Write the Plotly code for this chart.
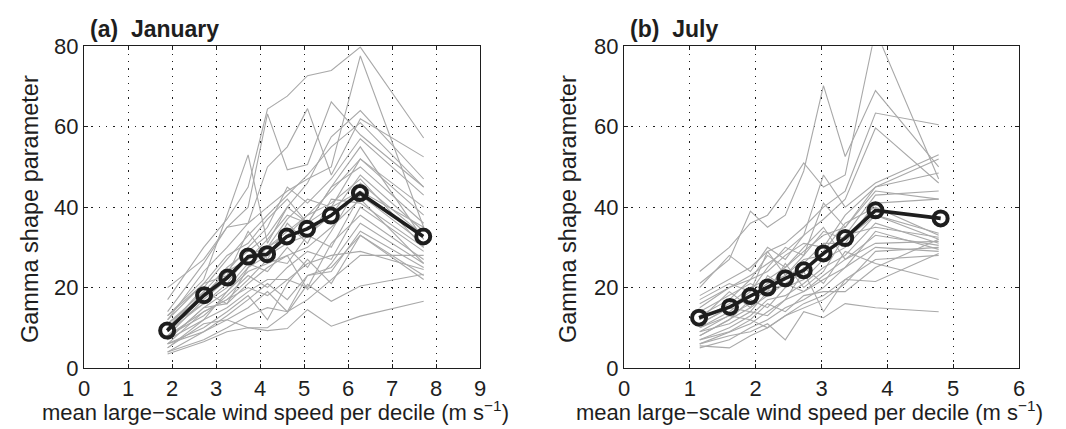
import plotly.graph_objects as go

# ---------------- data: January ----------------
jan_mean_x = [1.89, 2.73, 3.26, 3.73, 4.16, 4.61, 5.07, 5.61, 6.27, 7.71]
jan_mean_y = [9.3, 18.1, 22.5, 27.7, 28.3, 32.7, 34.6, 37.9, 43.5, 32.7]

jan_gray_x = [1.9, 2.72, 3.25, 3.73, 4.17, 4.62, 5.08, 5.62, 6.28, 7.72]
jan_gray = [
    [17, 30, 37, 45, 64.4, 67.6, 72.7, 74.0, 79.8, 57.2],
    [12, 24, 30, 36, 40, 44, 47, 50, 77.6, 35],
    [14, 26, 35, 40, 63.2, 49.3, 50.6, 66.2, 58, 45],
    [20, 27, 35, 36, 50, 55, 64.5, 48, 62, 52.5],
    [13, 22, 38, 53, 31, 40, 46, 57.5, 64, 47],
    [10, 20, 27, 33, 38, 43, 48, 55, 61, 45],
    [9, 18, 24, 30, 35, 45, 41, 47, 57, 43],
    [8, 17, 22, 27, 30, 34, 38, 44, 52, 40],
    [11, 19, 25, 29, 33, 40, 36, 45, 50, 36],
    [7, 15, 19, 25, 28, 31, 33, 38, 48, 34],
    [9, 16, 20, 26, 24, 30, 25, 34, 46, 33],
    [6, 14, 17, 22, 27, 26, 33, 30, 43, 31],
    [12, 21, 23, 34, 27, 36, 31, 42, 41, 30],
    [8, 13, 18, 23, 20, 25, 29, 27, 40, 29],
    [5, 12, 15, 19, 22, 22, 20, 31, 38, 27],
    [7, 15, 16, 21, 25, 28, 19.5, 26, 36, 26],
    [4, 7, 10, 13, 15, 14, 23, 24, 34, 25],
    [6, 10, 14, 18, 12, 21, 27, 21, 33, 23],
    [5, 11, 12, 15, 19, 14, 17, 22, 28, 28],
    [3.5, 6.5, 9, 10, 9.3, 9.8, 14.5, 10.4, 12.9, 16.6],
    [6, 9, 12, 10, 10, 13.7, 20.8, 16.6, 20.4, 23.3],
    [8, 14, 17, 20, 18, 22, 26, 28, 29, 24.5],
    [10, 16, 21, 28, 30, 33, 38, 41, 47, 30],
    [9, 19, 16, 25, 30, 37, 42, 40, 52, 38],
    [13, 21, 28, 31, 37, 42, 36, 45, 55, 32],
    [7, 12, 19, 24, 26, 28, 30, 35, 42, 26],
    [4, 9, 13, 17, 21, 17, 23, 25, 33, 22],
    [11, 18, 24, 27, 32, 38, 36, 40, 44, 35],
]

# ---------------- data: July ----------------
jul_mean_x = [1.14, 1.61, 1.92, 2.18, 2.45, 2.73, 3.03, 3.36, 3.82, 4.81]
jul_mean_y = [12.5, 15.2, 17.9, 20.0, 22.3, 24.3, 28.5, 32.3, 39.2, 37.2]

jul_gray_x = [1.15, 1.6, 1.92, 2.18, 2.45, 2.73, 3.03, 3.36, 3.82, 4.78]
jul_gray = [
    [24, 30, 36, 38, 44, 51, 45, 48, 84, 47],
    [21, 27, 39, 35, 38, 49, 70.2, 52.6, 69, 50],
    [18, 22, 25, 29, 31, 35, 40, 44, 63.4, 60.5],
    [15, 20, 23, 26, 29, 33, 37, 42, 59.7, 46],
    [20, 28, 24, 30, 27, 33, 48, 40, 46, 53],
    [13, 17, 22, 24, 28, 31, 30, 38, 45, 52],
    [12, 16, 20, 22, 25, 29, 33, 35, 45, 48.5],
    [10, 14, 18, 21, 23, 27, 28, 33, 43, 44],
    [9, 13, 16, 20, 22, 26, 31, 31, 41, 42],
    [11, 15, 14, 19, 21, 24, 29, 36, 40, 33],
    [8, 12, 17, 15, 20, 22, 27, 30, 38, 32],
    [7, 10, 13, 17, 18, 21, 25, 28, 36, 31],
    [6, 9, 11, 14, 17, 19, 23, 27, 33, 30.5],
    [5, 7, 10, 12, 15, 17, 20, 25, 30, 29],
    [5.5, 5, 8, 10, 13, 16, 18, 22, 27, 28],
    [6, 8, 9, 11, 7, 14, 12.5, 16, 15, 14],
    [12, 19, 15, 23, 20, 25, 21, 29, 26, 22],
    [14, 18, 21, 19, 26, 20, 24, 33, 35, 32.5],
    [9, 11, 14, 13, 17, 24, 14, 22, 21.5, 28.5],
    [16, 20, 22, 28, 25, 30, 35, 27, 31, 31.5],
    [10, 13, 12, 16, 14, 18, 19, 19, 25, 32],
    [7, 9, 12, 10, 13, 15, 17, 21, 29, 30],
    [11, 15, 19, 29, 23, 28, 34, 32, 38, 33.5],
    [8, 12, 15, 18, 21, 19, 22, 25, 34, 29.5],
    [17, 21, 19, 25, 30, 28, 41, 35, 44, 42],
]

panel_titles = ["(a)  January", "(b)  July"]
x_title = "mean large\u2212scale wind speed per decile (m s<sup>\u22121</sup>)"
y_title = "Gamma shape parameter"

GRAY = "#a9a9a9"
BLACK = "#1e1e1e"
FONT = "Liberation Sans, Arial, Helvetica, sans-serif"

fig = go.Figure()


def add_panel(gx, gys, mx, my, xa, ya):
    for ys in gys:
        fig.add_trace(go.Scatter(x=gx, y=ys, mode="lines", xaxis=xa, yaxis=ya,
                                 line=dict(color=GRAY, width=1.1),
                                 showlegend=False, hoverinfo="skip"))
    fig.add_trace(go.Scatter(x=mx, y=my, mode="lines+markers", xaxis=xa, yaxis=ya,
                             line=dict(color=BLACK, width=3.6),
                             marker=dict(symbol="circle-open", size=14, color=BLACK,
                                         line=dict(width=4, color=BLACK)),
                             showlegend=False))


add_panel(jan_gray_x, jan_gray, jan_mean_x, jan_mean_y, "x", "y")
add_panel(jul_gray_x, jul_gray, jul_mean_x, jul_mean_y, "x2", "y2")

W, H = 1066, 429
axis_common = dict(
    showline=True, linecolor=BLACK, linewidth=1.3, mirror="ticks",
    ticks="inside", ticklen=4, tickcolor=BLACK, tickwidth=1,
    showgrid=True, gridcolor=BLACK, gridwidth=1, griddash="1.3px,6px",
    zeroline=False, tickfont=dict(family=FONT, size=22, color=BLACK),
    fixedrange=True, automargin=False,
)

fig.update_layout(
    template="none",
    width=W, height=H,
    margin=dict(l=0, r=0, t=0, b=0, pad=0),
    paper_bgcolor="white", plot_bgcolor="white",
    xaxis=dict(domain=[76 / W, 472 / W], range=[0, 9], dtick=1, anchor="y", **axis_common),
    yaxis=dict(domain=[1 - 360 / H, 1 - 38.3 / H], range=[0, 80], dtick=20, anchor="x", **axis_common),
    xaxis2=dict(domain=[616 / W, 1011 / W], range=[0, 6], dtick=1, anchor="y2", **axis_common),
    yaxis2=dict(domain=[1 - 360 / H, 1 - 38.3 / H], range=[0, 80], dtick=20, anchor="x2", **axis_common),
    showlegend=False,
)

annotations = []
for title, x0 in zip(panel_titles, [80, 620]):
    annotations.append(dict(text="<b>" + title + "</b>", x=x0 / W, y=1 - 21 / H,
                            xref="paper", yref="paper", xanchor="left", yanchor="middle",
                            showarrow=False, font=dict(family=FONT, size=23, color=BLACK)))
for x0 in [32, 566]:
    annotations.append(dict(text=x_title, x=x0 / W, y=1 - 403 / H, xref="paper", yref="paper",
                            xanchor="left", yanchor="middle", showarrow=False,
                            font=dict(family=FONT, size=22, color=BLACK)))
for xc in [22, 560]:
    annotations.append(dict(text=y_title, x=xc / W, y=1 - 201 / H, xref="paper", yref="paper",
                            xanchor="center", yanchor="middle", textangle=-90, showarrow=False,
                            font=dict(family=FONT, size=23.5, color=BLACK)))
fig.update_layout(annotations=annotations)

fig.write_html("out.html")
